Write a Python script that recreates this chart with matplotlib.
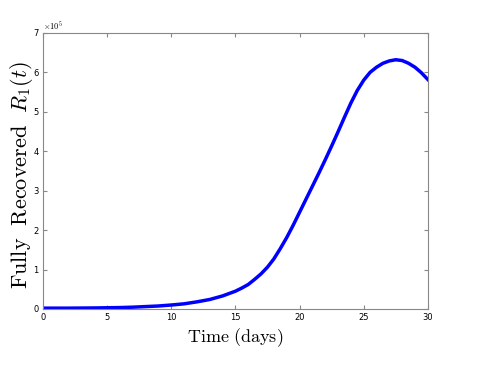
import matplotlib
matplotlib.use("Agg")
import matplotlib.pyplot as plt

plt.rcParams["mathtext.fontset"] = "cm"

t = [0, 2, 4, 5, 6, 7, 8, 9, 10, 11, 12, 13, 14, 15, 15.5, 16, 16.5, 17, 17.5, 18, 18.5, 19, 19.5, 20,
     20.5, 21, 21.5, 22, 22.5, 23, 23.5, 24, 24.5, 25, 25.5, 26, 26.5, 27, 27.5, 28, 28.5, 29, 29.5, 30]
R1 = [0.02, 0.02, 0.025, 0.03, 0.035, 0.045, 0.06, 0.075, 0.10, 0.13, 0.18, 0.24, 0.33, 0.45, 0.53,
      0.62, 0.75, 0.89, 1.06, 1.27, 1.53, 1.81, 2.12, 2.45, 2.78, 3.11, 3.44, 3.78, 4.13, 4.49, 4.86,
      5.22, 5.54, 5.80, 6.00, 6.13, 6.23, 6.29, 6.32, 6.30, 6.23, 6.13, 5.99, 5.82]
R1 = [v * 1e5 for v in R1]

fig = plt.figure(figsize=(4.94, 3.70), dpi=100)
ax = fig.add_axes([0.087, 0.165, 0.779, 0.746])
ax.plot(t, R1, color="#0000ff", lw=2.5)
ax.set_xlim(0, 30)
ax.set_ylim(0, 7e5)
ax.set_xticks([0, 5, 10, 15, 20, 25, 30])
ax.set_yticks([i * 1e5 for i in range(8)])
ax.set_yticklabels([str(i) for i in range(8)])
ax.tick_params(direction="in", top=True, right=True, labelsize=6, length=3, color="#888888", pad=3)
for s in ax.spines.values():
    s.set_color("#888888")
    s.set_linewidth(0.8)
ax.text(0.0, 1.005, r"$\times 10^5$", transform=ax.transAxes, fontsize=6, ha="left", va="bottom")
ax.set_xlabel(r"$\mathrm{Time\ (days)}$", fontsize=13, labelpad=3)
ax.set_ylabel(r"$\mathrm{Fully\ \ Recovered}\ \ R_1(t)$", fontsize=16)
ax.yaxis.set_label_coords(-0.022, 0.485)
fig.savefig("out.png", dpi=100)
